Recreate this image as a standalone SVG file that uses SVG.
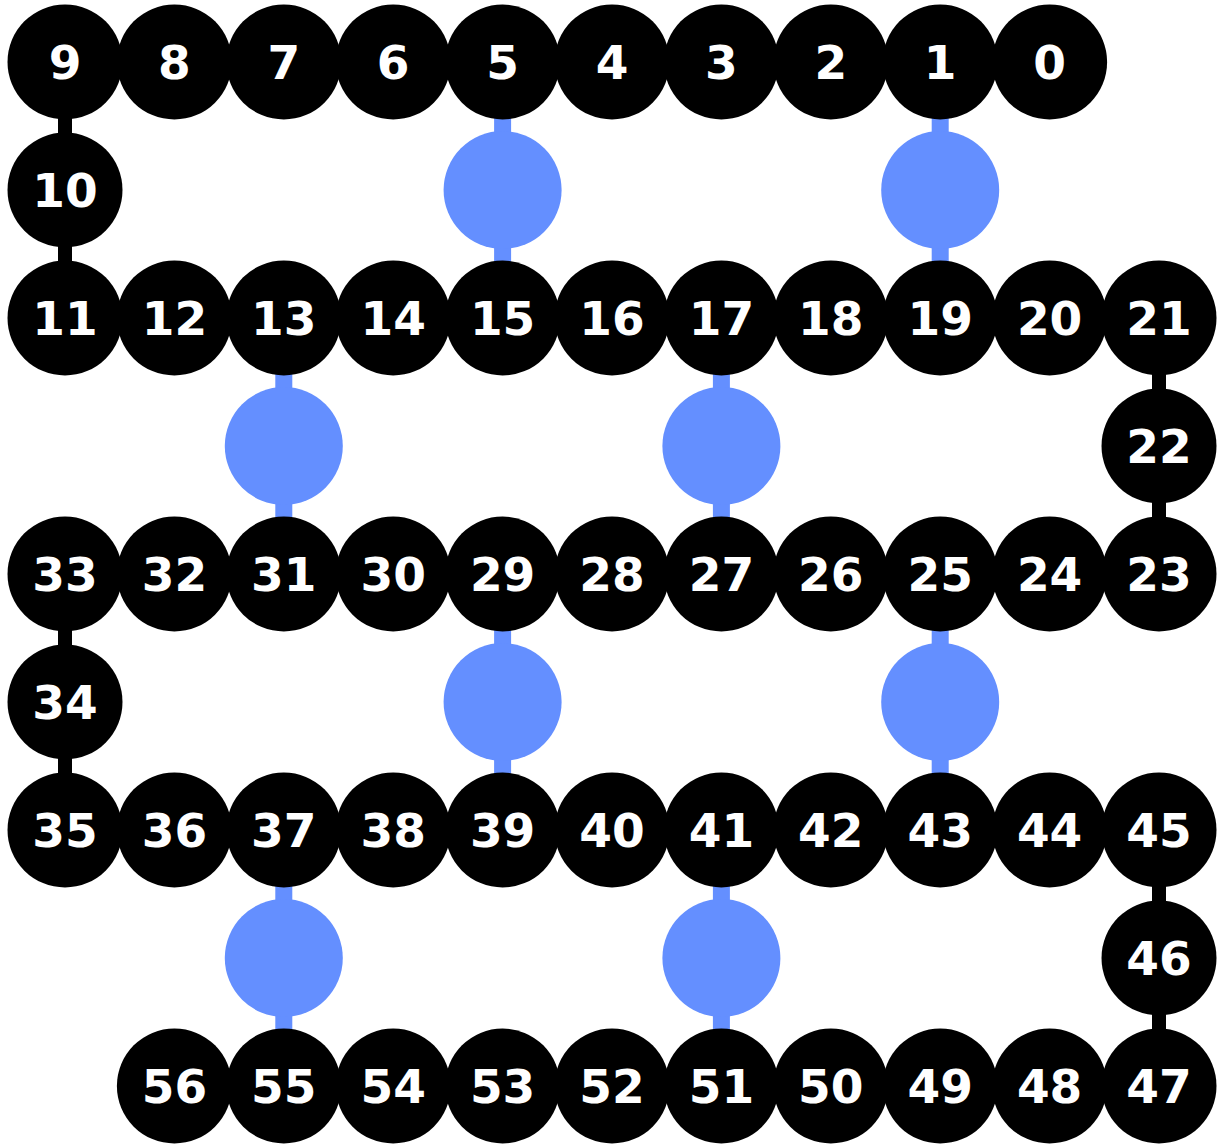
<svg xmlns="http://www.w3.org/2000/svg" width="1219" height="1146" viewBox="0 0 1219 1146">
<style>
.q circle{fill:#000}
.q text{fill:#fff;font-family:"DejaVu Sans",sans-serif;font-weight:bold;font-size:47px;text-anchor:middle}
.b circle{fill:#648FFF}
.e line{stroke:#000;stroke-width:14}
.e line.bl{stroke:#648FFF;stroke-width:17}
</style>
<rect width="1219" height="1146" fill="#fff"/>
<g id="edges" class="e">
<line x1="65" y1="62" x2="1049.6" y2="62"/>
<line x1="65" y1="318" x2="1159" y2="318"/>
<line x1="65" y1="574" x2="1159" y2="574"/>
<line x1="65" y1="830" x2="1159" y2="830"/>
<line x1="174.4" y1="1086" x2="1159" y2="1086"/>
<line x1="65" y1="62" x2="65" y2="318"/>
<line x1="1159" y1="318" x2="1159" y2="574"/>
<line x1="65" y1="574" x2="65" y2="830"/>
<line x1="1159" y1="830" x2="1159" y2="1086"/>
<line class="bl" x1="502.6" y1="62" x2="502.6" y2="318"/>
<line class="bl" x1="940.2" y1="62" x2="940.2" y2="318"/>
<line class="bl" x1="283.8" y1="318" x2="283.8" y2="574"/>
<line class="bl" x1="721.4" y1="318" x2="721.4" y2="574"/>
<line class="bl" x1="502.6" y1="574" x2="502.6" y2="830"/>
<line class="bl" x1="940.2" y1="574" x2="940.2" y2="830"/>
<line class="bl" x1="283.8" y1="830" x2="283.8" y2="1086"/>
<line class="bl" x1="721.4" y1="830" x2="721.4" y2="1086"/>
</g>
<g id="couplers" class="b">
<g id="b15"><circle cx="502.6" cy="190" r="59"/></g>
<g id="b19"><circle cx="940.2" cy="190" r="59"/></g>
<g id="b31"><circle cx="283.8" cy="446" r="59"/></g>
<g id="b27"><circle cx="721.4" cy="446" r="59"/></g>
<g id="b39"><circle cx="502.6" cy="702" r="59"/></g>
<g id="b43"><circle cx="940.2" cy="702" r="59"/></g>
<g id="b55"><circle cx="283.8" cy="958" r="59"/></g>
<g id="b51"><circle cx="721.4" cy="958" r="59"/></g>
</g>
<g id="nodes" class="q">
<g id="n9"><circle cx="65" cy="62" r="57.5"/><text x="65" y="79">9</text></g>
<g id="n8"><circle cx="174.4" cy="62" r="57.5"/><text x="174.4" y="79">8</text></g>
<g id="n7"><circle cx="283.8" cy="62" r="57.5"/><text x="283.8" y="79">7</text></g>
<g id="n6"><circle cx="393.2" cy="62" r="57.5"/><text x="393.2" y="79">6</text></g>
<g id="n5"><circle cx="502.6" cy="62" r="57.5"/><text x="502.6" y="79">5</text></g>
<g id="n4"><circle cx="612" cy="62" r="57.5"/><text x="612" y="79">4</text></g>
<g id="n3"><circle cx="721.4" cy="62" r="57.5"/><text x="721.4" y="79">3</text></g>
<g id="n2"><circle cx="830.8" cy="62" r="57.5"/><text x="830.8" y="79">2</text></g>
<g id="n1"><circle cx="940.2" cy="62" r="57.5"/><text x="940.2" y="79">1</text></g>
<g id="n0"><circle cx="1049.6" cy="62" r="57.5"/><text x="1049.6" y="79">0</text></g>
<g id="n10"><circle cx="65" cy="190" r="57.5"/><text x="65" y="207">10</text></g>
<g id="n11"><circle cx="65" cy="318" r="57.5"/><text x="65" y="335">11</text></g>
<g id="n12"><circle cx="174.4" cy="318" r="57.5"/><text x="174.4" y="335">12</text></g>
<g id="n13"><circle cx="283.8" cy="318" r="57.5"/><text x="283.8" y="335">13</text></g>
<g id="n14"><circle cx="393.2" cy="318" r="57.5"/><text x="393.2" y="335">14</text></g>
<g id="n15"><circle cx="502.6" cy="318" r="57.5"/><text x="502.6" y="335">15</text></g>
<g id="n16"><circle cx="612" cy="318" r="57.5"/><text x="612" y="335">16</text></g>
<g id="n17"><circle cx="721.4" cy="318" r="57.5"/><text x="721.4" y="335">17</text></g>
<g id="n18"><circle cx="830.8" cy="318" r="57.5"/><text x="830.8" y="335">18</text></g>
<g id="n19"><circle cx="940.2" cy="318" r="57.5"/><text x="940.2" y="335">19</text></g>
<g id="n20"><circle cx="1049.6" cy="318" r="57.5"/><text x="1049.6" y="335">20</text></g>
<g id="n21"><circle cx="1159" cy="318" r="57.5"/><text x="1159" y="335">21</text></g>
<g id="n22"><circle cx="1159" cy="446" r="57.5"/><text x="1159" y="463">22</text></g>
<g id="n33"><circle cx="65" cy="574" r="57.5"/><text x="65" y="591">33</text></g>
<g id="n32"><circle cx="174.4" cy="574" r="57.5"/><text x="174.4" y="591">32</text></g>
<g id="n31"><circle cx="283.8" cy="574" r="57.5"/><text x="283.8" y="591">31</text></g>
<g id="n30"><circle cx="393.2" cy="574" r="57.5"/><text x="393.2" y="591">30</text></g>
<g id="n29"><circle cx="502.6" cy="574" r="57.5"/><text x="502.6" y="591">29</text></g>
<g id="n28"><circle cx="612" cy="574" r="57.5"/><text x="612" y="591">28</text></g>
<g id="n27"><circle cx="721.4" cy="574" r="57.5"/><text x="721.4" y="591">27</text></g>
<g id="n26"><circle cx="830.8" cy="574" r="57.5"/><text x="830.8" y="591">26</text></g>
<g id="n25"><circle cx="940.2" cy="574" r="57.5"/><text x="940.2" y="591">25</text></g>
<g id="n24"><circle cx="1049.6" cy="574" r="57.5"/><text x="1049.6" y="591">24</text></g>
<g id="n23"><circle cx="1159" cy="574" r="57.5"/><text x="1159" y="591">23</text></g>
<g id="n34"><circle cx="65" cy="702" r="57.5"/><text x="65" y="719">34</text></g>
<g id="n35"><circle cx="65" cy="830" r="57.5"/><text x="65" y="847">35</text></g>
<g id="n36"><circle cx="174.4" cy="830" r="57.5"/><text x="174.4" y="847">36</text></g>
<g id="n37"><circle cx="283.8" cy="830" r="57.5"/><text x="283.8" y="847">37</text></g>
<g id="n38"><circle cx="393.2" cy="830" r="57.5"/><text x="393.2" y="847">38</text></g>
<g id="n39"><circle cx="502.6" cy="830" r="57.5"/><text x="502.6" y="847">39</text></g>
<g id="n40"><circle cx="612" cy="830" r="57.5"/><text x="612" y="847">40</text></g>
<g id="n41"><circle cx="721.4" cy="830" r="57.5"/><text x="721.4" y="847">41</text></g>
<g id="n42"><circle cx="830.8" cy="830" r="57.5"/><text x="830.8" y="847">42</text></g>
<g id="n43"><circle cx="940.2" cy="830" r="57.5"/><text x="940.2" y="847">43</text></g>
<g id="n44"><circle cx="1049.6" cy="830" r="57.5"/><text x="1049.6" y="847">44</text></g>
<g id="n45"><circle cx="1159" cy="830" r="57.5"/><text x="1159" y="847">45</text></g>
<g id="n46"><circle cx="1159" cy="958" r="57.5"/><text x="1159" y="975">46</text></g>
<g id="n56"><circle cx="174.4" cy="1086" r="57.5"/><text x="174.4" y="1103">56</text></g>
<g id="n55"><circle cx="283.8" cy="1086" r="57.5"/><text x="283.8" y="1103">55</text></g>
<g id="n54"><circle cx="393.2" cy="1086" r="57.5"/><text x="393.2" y="1103">54</text></g>
<g id="n53"><circle cx="502.6" cy="1086" r="57.5"/><text x="502.6" y="1103">53</text></g>
<g id="n52"><circle cx="612" cy="1086" r="57.5"/><text x="612" y="1103">52</text></g>
<g id="n51"><circle cx="721.4" cy="1086" r="57.5"/><text x="721.4" y="1103">51</text></g>
<g id="n50"><circle cx="830.8" cy="1086" r="57.5"/><text x="830.8" y="1103">50</text></g>
<g id="n49"><circle cx="940.2" cy="1086" r="57.5"/><text x="940.2" y="1103">49</text></g>
<g id="n48"><circle cx="1049.6" cy="1086" r="57.5"/><text x="1049.6" y="1103">48</text></g>
<g id="n47"><circle cx="1159" cy="1086" r="57.5"/><text x="1159" y="1103">47</text></g>
</g>
</svg>
